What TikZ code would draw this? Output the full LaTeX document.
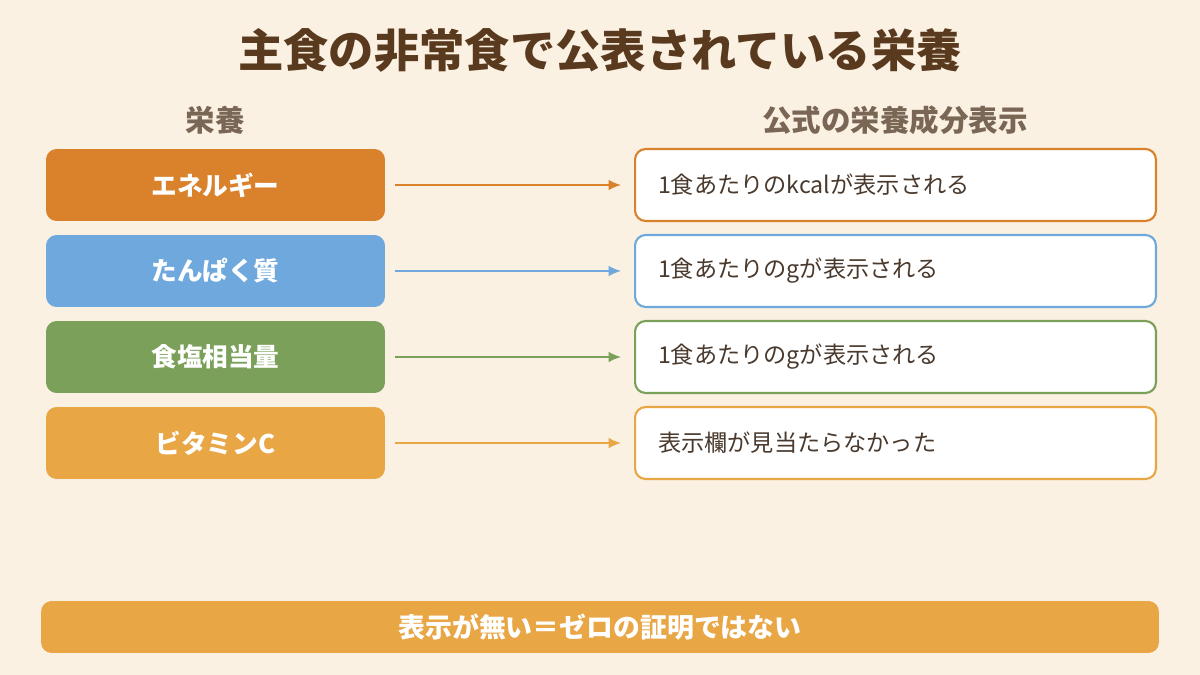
\documentclass[tikz,border=0pt]{standalone}
\usepackage{fontspec}
\setmainfont{Noto Sans CJK JP}
\usetikzlibrary{positioning,arrows.meta}
\definecolor{bg}{HTML}{FAF1E3}
\definecolor{titlec}{HTML}{5A3A1E}
\definecolor{headc}{HTML}{7A6655}
\definecolor{txtc}{HTML}{4A3A2E}
\definecolor{cene}{HTML}{D9822B}
\definecolor{cpro}{HTML}{6FA8DC}
\definecolor{csal}{HTML}{7AA05A}
\definecolor{cvit}{HTML}{E8A645}
\tikzstyle{nutrient} = [rounded corners=6pt,minimum width=6.78cm,minimum height=1.44cm,inner sep=0pt,text=white,font=\fontsize{14.6}{17}\selectfont\bfseries]
\tikzstyle{label} = [draw,line width=1.2pt,fill=white,rounded corners=6pt,minimum width=10.42cm,minimum height=1.44cm,inner sep=0pt,text=txtc,font=\fontsize{13.2}{16}\selectfont,text width=9.5cm,align=left]
\tikzstyle{link} = [line width=1pt,arrows={-Latex[length=7pt,width=6pt]}]
\begin{document}
\begin{tikzpicture}[x=0.02cm,y=-0.02cm]
	\fill[bg] (0,0) rectangle (1200,675);
	\useasboundingbox (0,0) rectangle (1200,675);
	\node (title) at (600,50) [text=titlec,font=\fontsize{25.8}{30}\selectfont\bfseries] {主食の非常食で公表されている栄養};
	\node (h1) at (215,120) [text=headc,font=\fontsize{16.8}{20}\selectfont\bfseries] {栄養};
	\node (h2) at (895,120) [text=headc,font=\fontsize{16.8}{20}\selectfont\bfseries] {公式の栄養成分表示};

	\node (n1)[nutrient,fill=cene] at (215.5,185) {エネルギー};
	\node (n2)[nutrient,fill=cpro] at (215.5,271) {たんぱく質};
	\node (n3)[nutrient,fill=csal] at (215.5,357) {食塩相当量};
	\node (n4)[nutrient,fill=cvit] at (215.5,443) {ビタミンC};

	\node (l1)[label,draw=cene] at (895.5,185) {1食あたりのkcalが表示される};
	\node (l2)[label,draw=cpro] at (895.5,271) {1食あたりのgが表示される};
	\node (l3)[label,draw=csal] at (895.5,357) {1食あたりのgが表示される};
	\node (l4)[label,draw=cvit] at (895.5,443) {表示欄が見当たらなかった};

	\draw[link,cene] ([xshift=5.7pt]n1.east) -- ([xshift=-7.4pt]l1.west);
	\draw[link,cpro] ([xshift=5.7pt]n2.east) -- ([xshift=-7.4pt]l2.west);
	\draw[link,csal] ([xshift=5.7pt]n3.east) -- ([xshift=-7.4pt]l3.west);
	\draw[link,cvit] ([xshift=5.7pt]n4.east) -- ([xshift=-7.4pt]l4.west);

	\node (note) at (600,627) [fill=cvit,rounded corners=6pt,minimum width=22.36cm,minimum height=1.04cm,text=white,font=\fontsize{15.3}{18}\selectfont\bfseries] {表示が無い＝ゼロの証明ではない};
\end{tikzpicture}
\end{document}
